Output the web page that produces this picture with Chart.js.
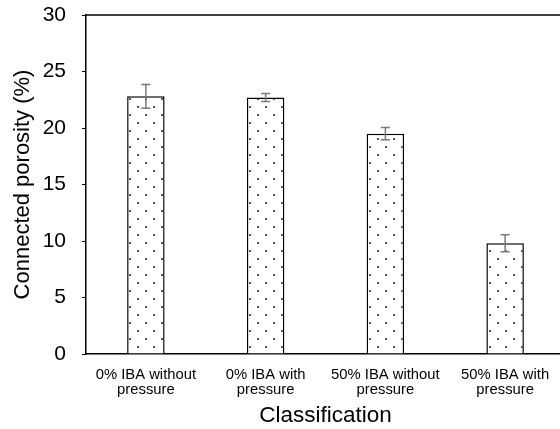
<!DOCTYPE html>
<html lang="en">
<head>
  <meta charset="UTF-8" />
  <title>Connected porosity by classification</title>
  <script src="https://cdn.jsdelivr.net/npm/chart.js"></script>
  <style>
    html, body {
      margin: 0;
      padding: 0;
      background: #fff;
      overflow: hidden;
    }
    #wrap {
      width: 565px;
      height: 429px;
    }
  </style>
</head>
<body>
  <div id="wrap"><canvas id="chart" width="565" height="429"></canvas></div>
  <script>
    const categories = [
      ['0% IBA without', 'pressure'],
      ['0% IBA with', 'pressure'],
      ['50% IBA without', 'pressure'],
      ['50% IBA with', 'pressure']
    ];
    const porosity = [22.8, 22.7, 19.5, 9.8];
    const porosityErr = [1.05, 0.35, 0.55, 0.75];
    const yTicks = [0, 5, 10, 15, 20, 25, 30];

    const FONT = "'Liberation Sans', Arial, sans-serif";

    // dotted fill for the bars
    function dotPattern() {
      const tile = document.createElement('canvas');
      tile.width = 16;
      tile.height = 16;
      const t = tile.getContext('2d');
      t.fillStyle = '#fff';
      t.fillRect(0, 0, 16, 16);
      t.fillStyle = '#555';
      t.fillRect(1, 2, 2, 2);
      t.fillRect(9, 10, 2, 2);
      return t.createPattern(tile, 'repeat');
    }

    const ctx = document.getElementById('chart').getContext('2d');

    // error bars and the top/right frame lines
    const extras = {
      id: 'extras',
      afterDatasetsDraw(chart) {
        const c = chart.ctx;
        const y = chart.scales.y;
        const bars = chart.getDatasetMeta(0).data;
        c.save();
        c.strokeStyle = '#7a7a7a';
        c.lineWidth = 1.5;
        bars.forEach((bar, i) => {
          const top = y.getPixelForValue(porosity[i] + porosityErr[i]);
          const bot = y.getPixelForValue(porosity[i] - porosityErr[i]);
          const cap = 4.5;
          c.beginPath();
          c.moveTo(bar.x, top);
          c.lineTo(bar.x, bot);
          c.moveTo(bar.x - cap, top);
          c.lineTo(bar.x + cap, top);
          c.moveTo(bar.x - cap, bot);
          c.lineTo(bar.x + cap, bot);
          c.stroke();
        });
        const a = chart.chartArea;
        c.strokeStyle = '#000';
        c.lineWidth = 1.5;
        c.beginPath();
        c.moveTo(a.left, a.top);
        c.lineTo(a.right, a.top);
        c.lineTo(a.right, a.bottom);
        c.stroke();
        c.restore();
      }
    };

    new Chart(ctx, {
      type: 'bar',
      data: {
        labels: categories,
        datasets: [{
          label: 'Connected porosity',
          data: porosity,
          backgroundColor: dotPattern(),
          borderColor: '#000',
          borderWidth: 1.5,
          categoryPercentage: 1,
          barPercentage: 0.313
        }]
      },
      options: {
        responsive: false,
        animation: false,
        layout: { padding: { top: 15, left: 0, right: 0, bottom: 0 } },
        plugins: {
          legend: { display: false },
          tooltip: { enabled: false }
        },
        scales: {
          x: {
            grid: { display: true, drawOnChartArea: false, drawTicks: false },
            border: { color: '#000', width: 1.5 },
            ticks: {
              color: '#000',
              padding: 14,
              font: { family: FONT, size: 14.8, lineHeight: 1.0 },
              maxRotation: 0,
              autoSkip: false
            },
            title: {
              display: true,
              text: 'Classification',
              color: '#000',
              font: { family: FONT, size: 22.5 },
              padding: { top: 0, bottom: 0 }
            },
            afterFit: (scale) => {
              scale.height = 75;
              scale.paddingLeft = 0;
              scale.paddingRight = 0;
            }
          },
          y: {
            min: 0,
            max: 30,
            afterBuildTicks: (scale) => { scale.ticks = yTicks.map(v => ({ value: v })); },
            grid: { drawOnChartArea: false, drawTicks: true, tickLength: 4, color: '#000', lineWidth: 1 },
            border: { color: '#000', width: 1.5 },
            ticks: {
              color: '#000',
              padding: 16,
              font: { family: FONT, size: 21 }
            },
            title: {
              display: true,
              text: 'Connected porosity (%)',
              color: '#000',
              font: { family: FONT, size: 22 },
              padding: { top: 10, bottom: 0 }
            },
            afterFit: (scale) => {
              scale.width = 86;
              scale.paddingTop = 0;
              scale.paddingBottom = 0;
            }
          }
        }
      },
      plugins: [extras]
    });
  </script>
</body>
</html>
